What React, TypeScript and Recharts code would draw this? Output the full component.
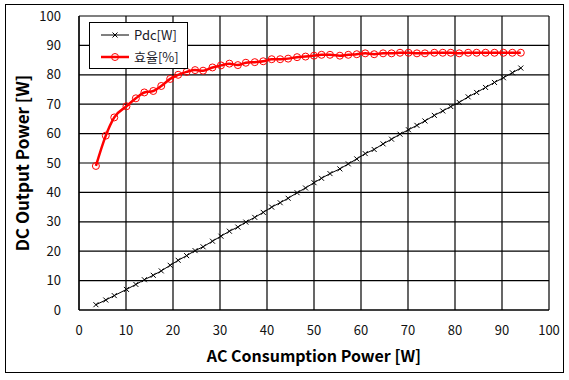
import React from 'react';
import { LineChart, Line, XAxis, YAxis, CartesianGrid, Legend } from 'recharts';

const acPower = [3.6, 5.7, 7.5, 10.1, 12.1, 13.9, 15.8, 17.5, 19.4, 21.1, 22.9, 24.7, 26.4, 28.4, 30.2, 32.0, 33.8, 35.5, 37.4, 39.2, 41.0, 42.8, 44.5, 46.4, 48.2, 50.0, 51.6, 53.4, 55.5, 57.3, 59.1, 60.9, 62.8, 64.7, 66.5, 68.3, 70.1, 71.9, 73.6, 75.6, 77.4, 79.1, 80.9, 82.8, 84.6, 86.5, 88.4, 90.3, 92.2, 94.0];
const pdc = [1.8, 3.4, 4.9, 7.0, 8.7, 10.3, 11.8, 13.3, 15.2, 16.9, 18.5, 20.2, 21.5, 23.4, 25.1, 26.8, 28.2, 29.9, 31.5, 33.2, 35.0, 36.5, 38.0, 39.9, 41.5, 43.3, 44.8, 46.4, 48.0, 49.7, 51.4, 53.2, 54.6, 56.5, 58.1, 59.8, 61.3, 62.8, 64.3, 66.2, 67.7, 69.2, 70.6, 72.5, 74.0, 75.7, 77.4, 79.0, 80.7, 82.3];
const efficiency = [49.0, 59.3, 65.5, 69.3, 72.0, 74.0, 74.5, 76.2, 78.6, 80.0, 81.0, 81.6, 81.4, 82.5, 83.2, 83.8, 83.3, 84.1, 84.3, 84.6, 85.3, 85.3, 85.5, 86.0, 86.2, 86.5, 86.8, 86.8, 86.5, 86.8, 87.0, 87.3, 87.0, 87.3, 87.3, 87.5, 87.5, 87.3, 87.3, 87.5, 87.5, 87.5, 87.3, 87.5, 87.5, 87.5, 87.5, 87.5, 87.5, 87.5];
const xTicks = [0, 10, 20, 30, 40, 50, 60, 70, 80, 90, 100];
const yTicks = [0, 10, 20, 30, 40, 50, 60, 70, 80, 90, 100];
const seriesNames = ['Pdc[W]', '효율[%]'];
const xTitle = 'AC Consumption Power [W]';
const yTitle = 'DC Output Power [W]';

const data = acPower.map((x, i) => ({ x, pdc: pdc[i], eff: efficiency[i] }));

const FONT = "'Noto Sans CJK KR', 'Noto Sans', sans-serif";

const CrossDot = (props: any) => {
  const { cx, cy, key } = props;
  if (cx == null || cy == null) return null;
  const s = 2.5;
  return (
    <path
      key={key}
      d={`M${cx - s},${cy - s}L${cx + s},${cy + s}M${cx - s},${cy + s}L${cx + s},${cy - s}`}
      stroke="#000"
      strokeWidth={1}
      fill="none"
    />
  );
};

const renderLegend = () => (
  <div
    style={{
      border: '1px solid #000',
      background: '#fff',
      width: 97,
      height: 45,
      boxSizing: 'content-box',
      fontFamily: FONT,
      fontSize: 13,
      color: '#1a1a2a',
    }}
  >
    <div style={{ display: 'flex', alignItems: 'center', height: 22, marginTop: 1 }}>
      <svg width={44} height={14} style={{ display: 'block' }}>
        <line x1={11} y1={7} x2={39} y2={7} stroke="#000" strokeWidth={1} />
        <path d="M22.5,4.5L27.5,9.5M22.5,9.5L27.5,4.5" stroke="#000" strokeWidth={1} />
      </svg>
      <span style={{ lineHeight: '14px' }}>{seriesNames[0]}</span>
    </div>
    <div style={{ display: 'flex', alignItems: 'center', height: 22 }}>
      <svg width={44} height={14} style={{ display: 'block' }}>
        <line x1={11} y1={7} x2={39} y2={7} stroke="#ff0000" strokeWidth={2.5} />
        <circle cx={25} cy={7} r={3.5} stroke="#ff0000" strokeWidth={1} fill="none" />
      </svg>
      <span style={{ lineHeight: '14px' }}>{seriesNames[1]}</span>
    </div>
  </div>
);

export default function App() {
  return (
    <div style={{ position: 'absolute', left: 0, top: 0, width: 569, height: 380, background: '#fff' }}>
      <div
        style={{
          position: 'absolute',
          left: 5,
          top: 4,
          width: 557,
          height: 367,
          border: '1px solid #000',
          pointerEvents: 'none',
        }}
      />
      <LineChart
        width={569}
        height={380}
        data={data}
        margin={{ top: 16, right: 20, bottom: 0, left: 0 }}
        style={{ fontFamily: FONT }}
      >
        <CartesianGrid stroke="#000" strokeWidth={1.2} horizontal vertical />
        <XAxis
          dataKey="x"
          type="number"
          domain={[0, 100]}
          ticks={xTicks}
          interval={0}
          height={70}
          tickLine={false}
          axisLine={{ stroke: '#000', strokeWidth: 1.2 }}
          tick={{ fill: '#111', fontSize: 13, fontFamily: FONT }}
          tickMargin={10}
          label={{
            value: xTitle,
            position: 'insideBottom',
            offset: 18,
            style: { fontSize: 16, fontWeight: 'bold', fill: '#000', fontFamily: FONT },
          }}
        />
        <YAxis
          type="number"
          domain={[0, 100]}
          ticks={yTicks}
          interval={0}
          width={79}
          tickLine={false}
          axisLine={{ stroke: '#000', strokeWidth: 1.2 }}
          tick={{ fill: '#111', fontSize: 13, fontFamily: FONT }}
          tickMargin={12}
          label={{
            value: yTitle,
            angle: -90,
            position: 'insideLeft',
            offset: 23,
            style: { fontSize: 17, fontWeight: 'bold', fill: '#000', fontFamily: FONT, textAnchor: 'middle' },
          }}
        />
        <Legend
          content={renderLegend}
          layout="horizontal"
          verticalAlign="middle"
          align="center"
          wrapperStyle={{ position: 'absolute', left: 89, top: 22, width: 99, height: 47 }}
        />
        <Line
          dataKey="pdc"
          name={seriesNames[0]}
          stroke="#000"
          strokeWidth={1}
          dot={CrossDot}
          activeDot={false}
          isAnimationActive={false}
          type="linear"
        />
        <Line
          dataKey="eff"
          name={seriesNames[1]}
          stroke="#ff0000"
          strokeWidth={2.5}
          dot={{ r: 3.5, stroke: '#ff0000', strokeWidth: 1, fill: 'none' }}
          activeDot={false}
          isAnimationActive={false}
          type="monotone"
        />
      </LineChart>
    </div>
  );
}
